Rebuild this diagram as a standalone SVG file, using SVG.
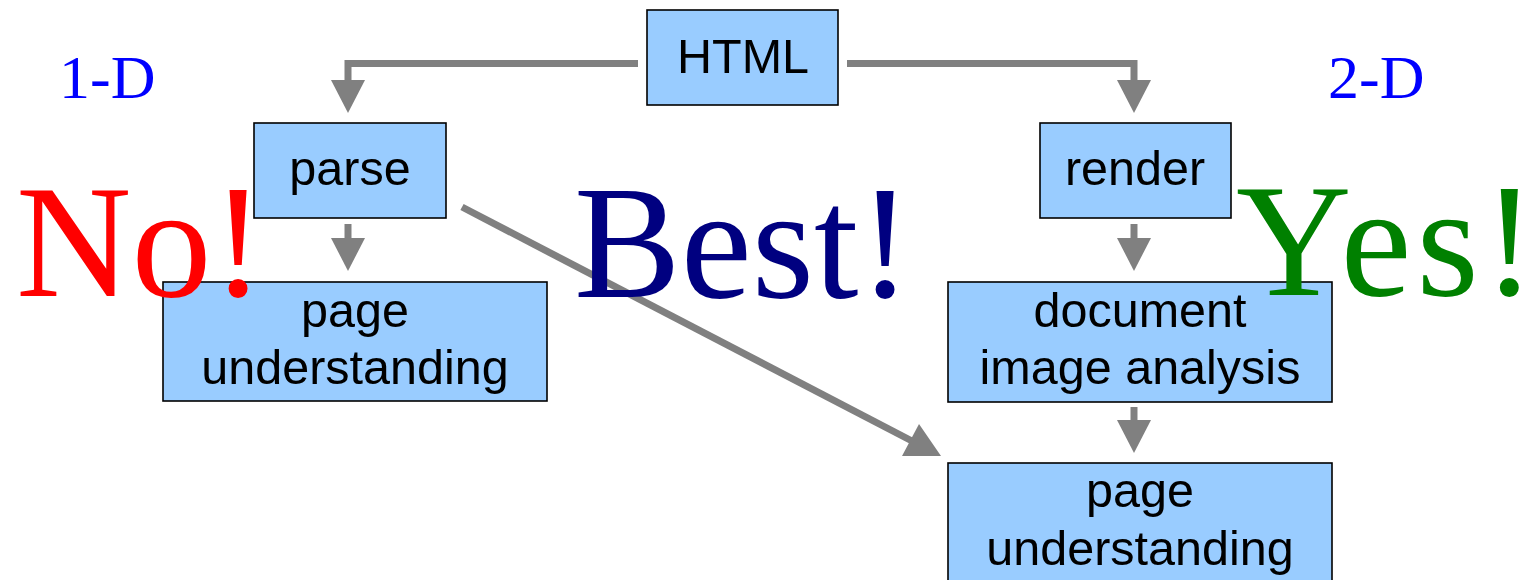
<svg xmlns="http://www.w3.org/2000/svg" width="1530" height="580" viewBox="0 0 1530 580">
  <style>
    .box { fill: #99ccff; stroke: #000; stroke-width: 1.6; }
    .lbl { font-family: "Liberation Sans", Arial, sans-serif; font-size: 48.5px; fill: #000; text-anchor: middle; }
    .big { font-family: "Liberation Serif", "Times New Roman", serif; font-size: 160px; }
    .dim { font-family: "Liberation Serif", "Times New Roman", serif; font-size: 62px; fill: #0000ff; }
    .wire { fill: none; stroke: #808080; stroke-width: 7; }
    .head { fill: #808080; }
  </style>
  <defs>
    <path id="arrowhead" d="M-17,0 L17,0 L0,33 Z"/>
  </defs>

  <rect width="1530" height="580" fill="#fff"/>

  <!-- dimension labels -->
  <text class="dim" x="59" y="98">1-D</text>
  <text class="dim" x="1328" y="98">2-D</text>

  <!-- connectors -->
  <g id="connectors">
    <path class="wire" d="M638,63.5 H348 V82"/>
    <use href="#arrowhead" class="head" x="348" y="80"/>
    <path class="wire" d="M847,63.5 H1134 V82"/>
    <use href="#arrowhead" class="head" x="1134" y="80"/>

    <path class="wire" stroke-width="10" d="M348,224 V241"/>
    <use href="#arrowhead" class="head" x="348" y="238"/>
    <path class="wire" stroke-width="10" d="M1134,224 V241"/>
    <use href="#arrowhead" class="head" x="1134" y="238"/>
    <path class="wire" stroke-width="10" d="M1134,407 V422"/>
    <use href="#arrowhead" class="head" x="1134" y="420"/>

    <!-- diagonal shortcut from parse to page understanding -->
    <path class="wire" stroke-width="9" d="M462,207 L912,441"/>
    <path class="head" d="M941,456 L902,456 L919,424 Z"/>
  </g>

  <g id="node-html">
    <rect class="box" x="647" y="10" width="191" height="95"/>
    <text class="lbl" x="743" y="73">HTML</text>
  </g>
  <g id="node-parse">
    <rect class="box" x="254" y="123" width="192" height="95"/>
    <text class="lbl" x="350" y="185">parse</text>
  </g>
  <g id="node-render">
    <rect class="box" x="1040" y="123" width="191" height="95"/>
    <text class="lbl" x="1135" y="185">render</text>
  </g>
  <g id="node-page-1d">
    <rect class="box" x="163" y="282" width="384" height="119"/>
    <text class="lbl" x="355" y="327">page</text>
    <text class="lbl" x="355" y="384">understanding</text>
  </g>
  <g id="node-dia">
    <rect class="box" x="948" y="282" width="384" height="120"/>
    <text class="lbl" x="1140" y="327">document</text>
    <text class="lbl" x="1140" y="384">image analysis</text>
  </g>
  <g id="node-page-2d">
    <rect class="box" x="948" y="463" width="384" height="130"/>
    <text class="lbl" x="1140" y="507">page</text>
    <text class="lbl" x="1140" y="565">understanding</text>
  </g>

  <!-- verdicts -->
  <text class="big" x="16" y="296" fill="#ff0000">No!</text>
  <text class="big" x="574" y="297" fill="#000080">Best!</text>
  <text class="big" x="1236" y="295" dx="0 5 5 4" fill="#008000">Yes!</text>
</svg>
